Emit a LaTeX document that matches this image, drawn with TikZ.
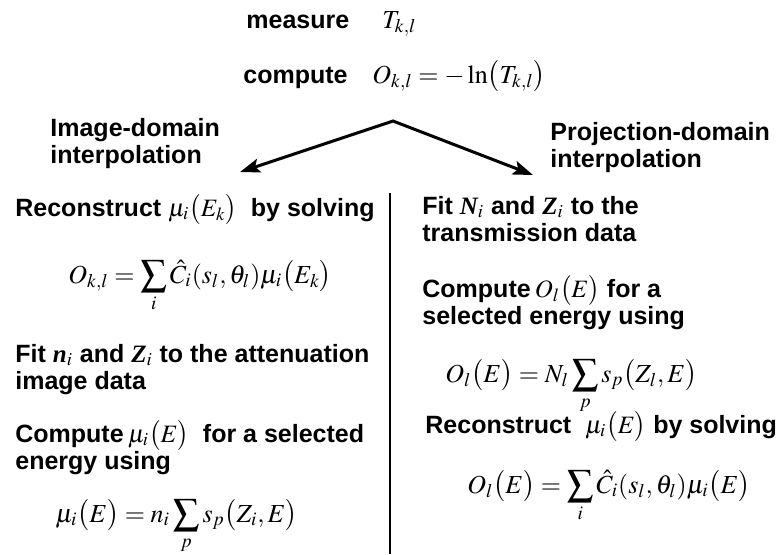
\documentclass[tikz,border=0pt]{standalone}
\usepackage{amsmath}
\usepackage{mathptmx}
\usepackage[no-math]{fontspec}
\setmainfont{Liberation Sans}
\newfontfamily\timesbi{Liberation Serif}
\newcommand{\bv}[2]{{\timesbi\itshape #1}$_{#2}$}
\usetikzlibrary{arrows.meta,positioning}

\tikzset{
  txt/.style={anchor=base west, inner sep=0pt, align=left,
              font=\fontsize{12.5}{13.5}\selectfont\bfseries},
  eqn/.style={anchor=base west, inner sep=0pt,
              font=\fontsize{13}{15}\selectfont},
  branch/.style={{Stealth[length=10pt,width=7pt,inset=2pt]}-{Stealth[length=10pt,width=7pt,inset=2pt]},
                 line width=1.5pt, line join=miter}
}

\begin{document}
\begin{tikzpicture}[x=0.5pt,y=-0.5pt]
  \useasboundingbox (0,0) rectangle (782,554);

  % measured data
  \node[txt] (measure) at (246,28) {measure};
  \node[eqn] (Tkl) at (382,28) {$T_{k,l}$};
  \node[txt] (compute) at (243,83) {compute};
  \node[eqn] (Okl) at (372,83) {$O_{k,l}=-\ln\bigl(T_{k,l}\bigr)$};

  % the two branches
  \coordinate (apex) at (393,121);
  \coordinate (tipL) at (240,172);
  \coordinate (tipR) at (533,175);
  \draw[branch] (tipL) -- (apex) -- (tipR);

  % (base of a two-line node = last line)
  \node[txt] (imgdom) at (50,163) {Image-domain\\interpolation};
  \node[txt] (prjdom) at (550,167) {Projection-domain\\interpolation};

  \coordinate (divtop) at (390,193);
  \coordinate (divbot) at (390,554);
  \draw[line width=1pt] (divtop) -- (divbot);

  % image domain
  \node[txt] (recL) at (15,216) {Reconstruct $\mu_i\bigl(E_k\bigr)$ \ by solving};
  \node[eqn] (eqL1) at (68,283) {$\displaystyle O_{k,l}=\sum_i \hat{C}_i(s_l,\theta_l)\mu_i\bigl(E_k\bigr)$};
  \node[txt] (fitL) at (15,389) {Fit \bv{n}{i} and \bv{Z}{i} to the attenuation\\image data};
  \node[txt] (cmpL) at (15,469) {Compute\,$\mu_i\bigl(E\bigr)$ \ for a selected\\energy using};
  \node[eqn] (eqL2) at (55,522) {$\displaystyle \mu_i\bigl(E\bigr)= n_i\sum_p s_p\bigl(Z_i, E\bigr)$};

  % projection domain
  \node[txt] (fitR) at (422,241) {Fit \bv{N}{i} and \bv{Z}{i} to the\\transmission data};
  \node[txt] (cmpR) at (422,324) {Compute\,$O_l\bigl(E\bigr)$ for a\\selected energy using};
  \node[eqn] (eqR1) at (445,382) {$\displaystyle O_l\bigl(E\bigr)= N_l\sum_p s_p\bigl(Z_l, E\bigr)$};
  \node[txt] (recR) at (425,433) {Reconstruct \ $\mu_i\bigl(E\bigr)$ by solving};
  \node[eqn] (eqR2) at (467,493) {$\displaystyle O_l\bigl(E\bigr)= \sum_i \hat{C}_i(s_l,\theta_l)\mu_i\bigl(E\bigr)$};
\end{tikzpicture}
\end{document}
